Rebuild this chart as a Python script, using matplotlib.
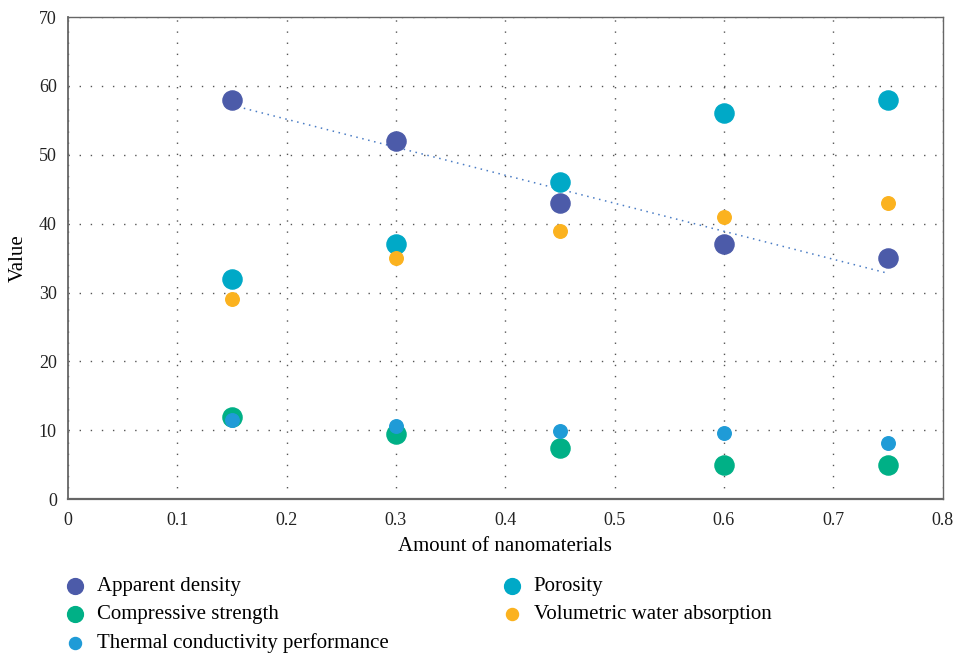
import numpy as np
import matplotlib.pyplot as plt

# amount of nanomaterials (x) and measured values
amount = [0.15, 0.3, 0.45, 0.6, 0.75]
apparent_density = [58, 52, 43, 37, 35]
porosity = [32, 37, 46, 56, 58]
compressive = [12, 9.5, 7.5, 5, 5]
water_abs = [29, 35, 39, 41, 43]
thermal = [11.5, 10.7, 9.9, 9.6, 8.2]

plt.rcParams['font.family'] = ['Liberation Serif', 'DejaVu Serif']

fig = plt.figure(figsize=(9.57, 6.56), dpi=100)
ax = fig.add_axes([0.071, 0.239, 0.914, 0.735])

big = 190
small = 95
ax.scatter(amount, apparent_density, s=big, color='#4C5BA9', label='Apparent density', zorder=3)
ax.scatter(amount, compressive, s=big, color='#00B086', label='Compressive strength', zorder=3)
ax.scatter(amount, thermal, s=small, color='#1F9BD7', label='Thermal conductivity performance', zorder=4)
ax.scatter(amount, porosity, s=big, color='#00A9C7', label='Porosity', zorder=3)
ax.scatter(amount, water_abs, s=small, color='#FBB21F', label='Volumetric water absorption', zorder=3)

# linear trend for apparent density
k, b = np.polyfit(amount, apparent_density, 1)
xs = np.array([amount[0], amount[-1]])
ax.plot(xs, k * xs + b, ls=(0, (1, 3)), color='#4A7CC4', lw=1.1, zorder=2)

ax.set_xlim(0, 0.8)
ax.set_ylim(0, 70)
ax.set_xticks(np.arange(0, 0.81, 0.1))
ax.set_xticklabels(['0', '0.1', '0.2', '0.3', '0.4', '0.5', '0.6', '0.7', '0.8'])
ax.set_yticks(range(0, 71, 10))
ax.tick_params(length=0, labelsize=13, colors='#222222')
ax.tick_params(axis='x', pad=9)
ax.tick_params(axis='y', pad=8)
ax.grid(True, ls=(0, (1, 7)), color='#555555', lw=1.0)
for s in ax.spines.values():
    s.set_color('#666666')
    s.set_linewidth(1)
ax.spines['bottom'].set_linewidth(1.6)
ax.spines['left'].set_linewidth(1.3)

ax.set_xlabel('Amount of nanomaterials', fontsize=15, labelpad=6)
ax.set_ylabel('Value', fontsize=15, labelpad=8)

leg = ax.legend(loc='upper left', bbox_to_anchor=(-0.02, -0.143), ncol=2, frameon=False,
                fontsize=15, handletextpad=0.25, columnspacing=5.1, labelspacing=0.42,
                scatterpoints=1, borderaxespad=0, handlelength=1.6)
for h, sz in zip(leg.legend_handles, [130, 130, 75, 130, 75]):
    h.set_sizes([sz])

plt.savefig('out.png', dpi=100)
